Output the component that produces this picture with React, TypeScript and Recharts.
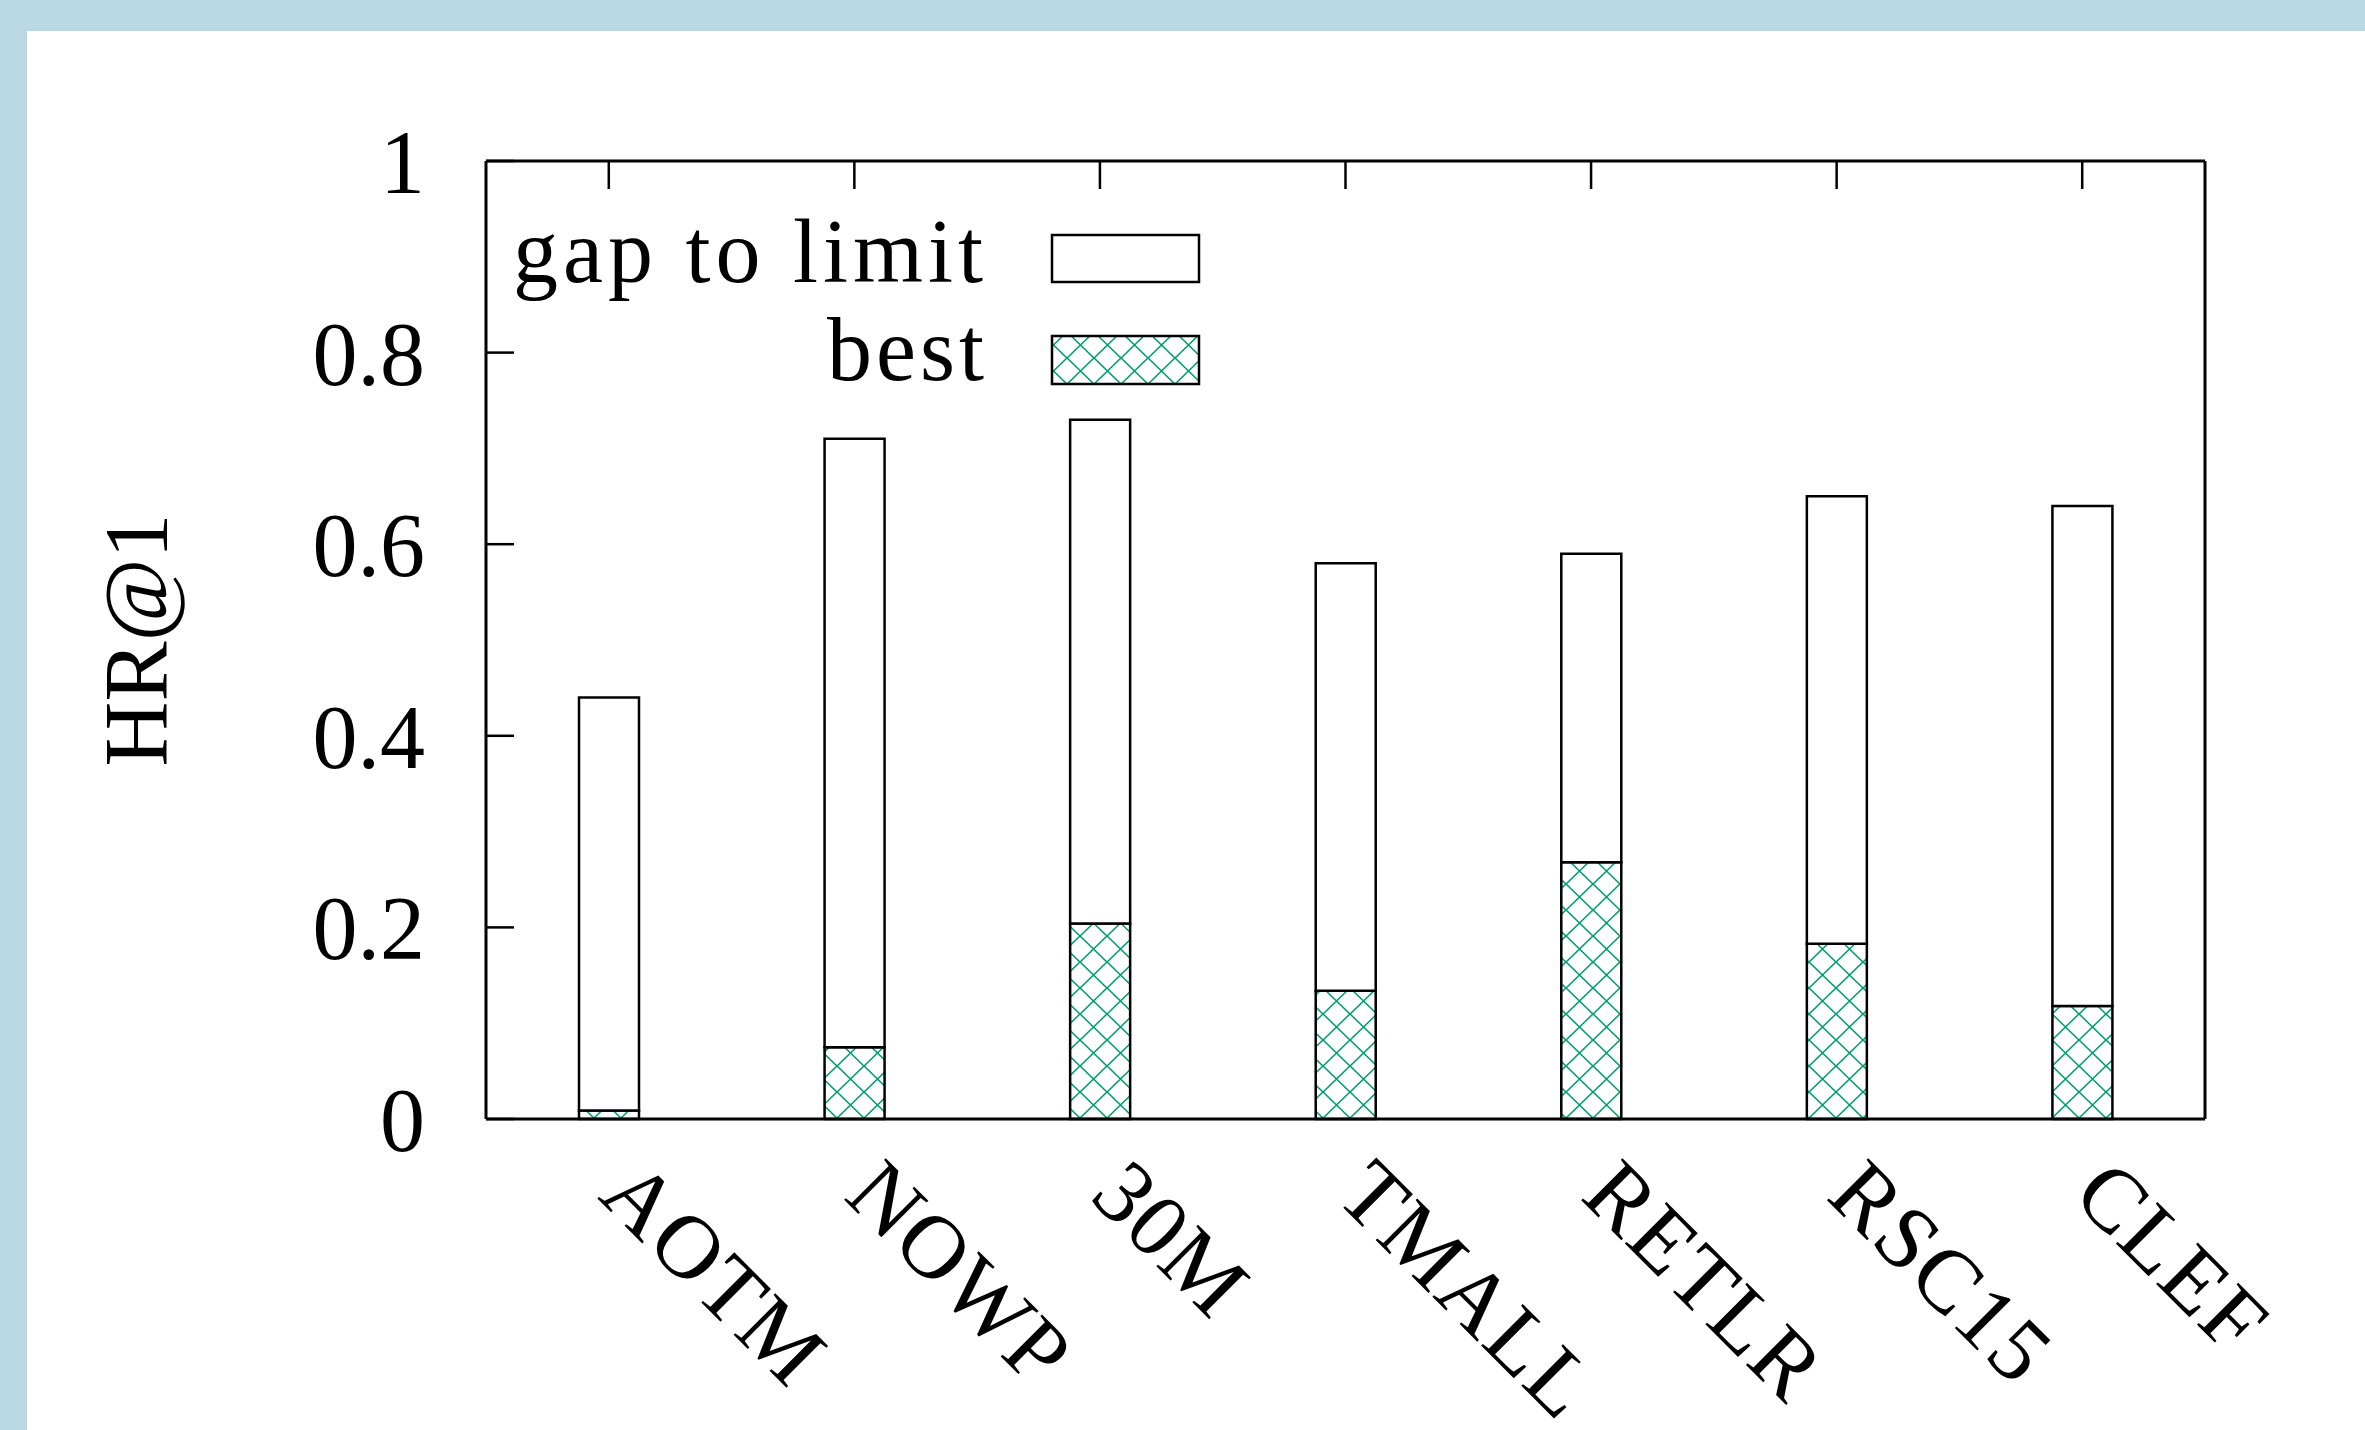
import { Bar, BarChart, Legend, XAxis, YAxis } from 'recharts';

const categories = ['AOTM', 'NOWP', '30M', 'TMALL', 'RETLR', 'RSC15', 'CLEF'];
const bestValues = [0.009, 0.075, 0.204, 0.134, 0.268, 0.183, 0.118];
const limitValues = [0.44, 0.71, 0.73, 0.58, 0.59, 0.65, 0.64];
const yTicks = [0, 0.2, 0.4, 0.6, 0.8, 1];

const data = categories.map((name, i) => ({
  name,
  best: bestValues[i],
  gap: limitValues[i] - bestValues[i],
}));

const FONT = '"Liberation Serif", "Times New Roman", serif';
const FS = 90;

function XTick(props: any) {
  const { x, y, payload } = props;
  const tx = x - 12;
  const ty = y + 79;
  return (
    <text
      x={tx}
      y={ty}
      transform={`rotate(45 ${tx} ${ty})`}
      textAnchor="start"
      fontFamily={FONT}
      fontSize={FS}
      letterSpacing={2}
      fill="#000"
    >
      {payload.value}
    </text>
  );
}

// mirror axes: keep the tick marks, draw no labels
const NoLabel = () => <g />;

function renderYLabel(props: any) {
  const vb = props.viewBox || {};
  const x = (vb.x ?? 186) - 50;
  const y = (vb.y ?? 161) + (vb.height ?? 958) / 2;
  return (
    <text
      x={x}
      y={y}
      transform={`rotate(-90 ${x} ${y})`}
      textAnchor="middle"
      dominantBaseline="central"
      fontFamily={FONT}
      fontSize={FS}
      fill="#000"
    >
      HR@1
    </text>
  );
}

function KeyBox() {
  return (
    <svg width={720} height={260}>
      <text x={488} y={132} textAnchor="end" fontFamily={FONT} fontSize={FS} letterSpacing={5}>
        gap to limit
      </text>
      <rect x={552} y={85} width={147} height={47} fill="#fff" stroke="#000" strokeWidth={2.5} />
      <text x={488} y={230} textAnchor="end" fontFamily={FONT} fontSize={FS} letterSpacing={4}>
        best
      </text>
      <rect x={552} y={186} width={147} height={48} fill="url(#hatchFill)" stroke="#000" strokeWidth={2.5} />
    </svg>
  );
}

export default function App() {
  return (
    <div style={{ position: 'absolute', left: 0, top: 0, width: 2365, height: 1430, background: '#fff', overflow: 'hidden' }}>
      <div style={{ position: 'absolute', left: 0, top: 0, width: 2365, height: 31, background: '#bad7e4' }} />
      <div style={{ position: 'absolute', left: 0, top: 0, width: 27, height: 1430, background: '#bad7e4' }} />
      <svg width={0} height={0} style={{ position: 'absolute' }}>
        <defs>
          <pattern id="hatchFill" patternUnits="userSpaceOnUse" width={27} height={26}>
            <rect width={27} height={26} fill="#fff" />
            <path d="M0 0 L27 26 M27 0 L0 26" stroke="#009e73" strokeWidth={1.6} />
          </pattern>
        </defs>
      </svg>
      <div style={{ position: 'absolute', left: 0, top: 0 }}>
        <BarChart width={2365} height={1430} data={data} margin={{ top: 151, right: 150, bottom: 211, left: 186 }}>
          <XAxis
            xAxisId="bottom"
            dataKey="name"
            orientation="bottom"
            height={100}
            interval={0}
            tickLine={false}
            tickSize={0}
            tickMargin={0}
            tick={<XTick />}
            axisLine={{ stroke: '#000', strokeWidth: 3 }}
          />
          <XAxis
            xAxisId="top"
            dataKey="name"
            orientation="top"
            height={10}
            interval={0}
            tick={NoLabel}
            tickSize={-28}
            tickLine={{ stroke: '#000', strokeWidth: 2.5 }}
            axisLine={{ stroke: '#000', strokeWidth: 3 }}
          />
          <YAxis
            yAxisId="left"
            orientation="left"
            width={300}
            domain={[0, 1]}
            ticks={yTicks}
            interval={0}
            tickFormatter={(v) => String(v)}
            tickSize={-28}
            tickMargin={89}
            tick={{ fontFamily: FONT, fontSize: FS, fill: '#000' }}
            tickLine={{ stroke: '#000', strokeWidth: 2.5 }}
            axisLine={{ stroke: '#000', strokeWidth: 3 }}
            label={renderYLabel}
          />
          <YAxis
            yAxisId="right"
            orientation="right"
            width={10}
            domain={[0, 1]}
            ticks={yTicks}
            interval={0}
            tick={NoLabel}
            tickSize={-28}
            tickLine={{ stroke: '#000', strokeWidth: 2.5 }}
            axisLine={{ stroke: '#000', strokeWidth: 3 }}
          />
          <Legend
            layout="vertical"
            align="center"
            verticalAlign="middle"
            content={() => <KeyBox />}
            wrapperStyle={{ position: 'absolute', left: 500, top: 150, width: 720, height: 260 }}
          />
          <Bar
            dataKey="best"
            stackId="s"
            xAxisId="bottom"
            yAxisId="left"
            barSize={60}
            fill="url(#hatchFill)"
            stroke="#000"
            strokeWidth={2.5}
            isAnimationActive={false}
          />
          <Bar
            dataKey="gap"
            stackId="s"
            xAxisId="bottom"
            yAxisId="left"
            barSize={60}
            fill="#fff"
            stroke="#000"
            strokeWidth={2.5}
            isAnimationActive={false}
          />
        </BarChart>
      </div>
    </div>
  );
}
